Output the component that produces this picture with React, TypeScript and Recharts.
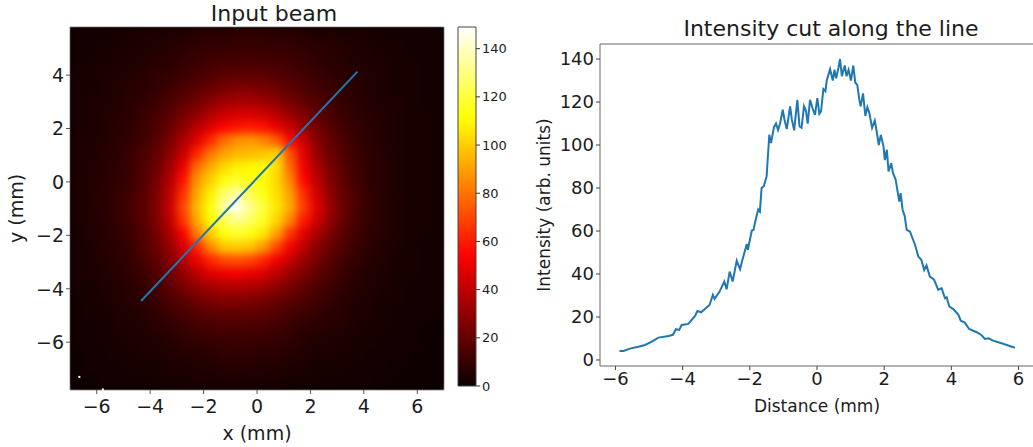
import React from 'react';
import {
  ScatterChart,
  Scatter,
  LineChart,
  Line,
  BarChart,
  Bar,
  XAxis,
  YAxis,
  ReferenceArea,
} from 'recharts';

const FONT = '"DejaVu Sans", sans-serif';
const INK = '#1c1c1c';

// beam image on a 0.5 mm grid
const beamX = [-6.75, -6.25, -5.75, -5.25, -4.75, -4.25, -3.75, -3.25, -2.75, -2.25, -1.75, -1.25, -0.75, -0.25, 0.25, 0.75, 1.25, 1.75, 2.25, 2.75, 3.25, 3.75, 4.25, 4.75, 5.25, 5.75, 6.25, 6.75];
const beamY = [5.55, 5.05, 4.55, 4.05, 3.55, 3.05, 2.55, 2.05, 1.55, 1.05, 0.55, 0.05, -0.45, -0.95, -1.45, -1.95, -2.45, -2.95, -3.45, -3.95, -4.45, -4.95, -5.45, -5.95, -6.45, -6.95, -7.45];
const beamRows = [
  [2, 2, 2, 3, 3, 4, 4, 5, 5, 6, 7, 7, 8, 8, 8, 7, 7, 6, 5, 5, 4, 4, 3, 3, 2, 2, 2, 2],
  [2, 2, 3, 3, 4, 4, 5, 6, 7, 8, 9, 9, 10, 10, 10, 9, 9, 8, 7, 6, 5, 4, 4, 3, 3, 2, 2, 2],
  [2, 3, 3, 4, 4, 5, 6, 7, 9, 10, 12, 13, 13, 13, 13, 12, 11, 10, 8, 7, 6, 5, 4, 4, 3, 3, 2, 2],
  [3, 3, 4, 4, 5, 6, 8, 9, 11, 13, 15, 17, 18, 18, 17, 16, 14, 12, 10, 8, 7, 6, 5, 4, 3, 3, 2, 2],
  [3, 3, 4, 5, 6, 7, 9, 11, 14, 17, 20, 23, 25, 25, 24, 21, 18, 15, 12, 10, 8, 6, 5, 4, 3, 3, 2, 2],
  [3, 4, 4, 5, 7, 8, 11, 14, 18, 22, 27, 31, 34, 34, 32, 28, 23, 19, 15, 12, 9, 7, 5, 4, 4, 3, 2, 2],
  [3, 4, 5, 6, 7, 10, 13, 17, 23, 29, 36, 42, 45, 45, 43, 38, 31, 25, 19, 14, 10, 8, 6, 5, 4, 3, 3, 2],
  [3, 4, 5, 6, 8, 11, 15, 21, 29, 38, 47, 54, 58, 60, 57, 50, 41, 32, 23, 17, 12, 9, 7, 5, 4, 3, 3, 2],
  [4, 4, 5, 7, 9, 12, 17, 25, 36, 48, 62, 78, 86, 88, 84, 74, 56, 42, 28, 20, 14, 10, 7, 5, 4, 3, 3, 2],
  [4, 4, 6, 7, 10, 14, 20, 29, 42, 62, 80, 90, 95, 96, 98, 102, 72, 48, 32, 22, 15, 11, 8, 6, 4, 3, 3, 2],
  [4, 5, 6, 8, 10, 15, 22, 33, 50, 78, 92, 102, 108, 110, 112, 104, 78, 52, 36, 25, 17, 12, 8, 6, 4, 3, 3, 2],
  [4, 5, 6, 8, 11, 16, 24, 37, 58, 88, 100, 112, 118, 114, 112, 102, 84, 56, 40, 27, 18, 12, 8, 6, 4, 3, 3, 2],
  [4, 5, 7, 9, 12, 17, 26, 40, 65, 92, 108, 126, 136, 124, 114, 104, 90, 64, 44, 30, 20, 13, 9, 6, 4, 3, 3, 2],
  [4, 5, 7, 9, 13, 18, 27, 42, 70, 96, 112, 134, 148, 132, 120, 106, 92, 68, 48, 32, 21, 14, 9, 6, 5, 3, 3, 2],
  [4, 5, 6, 9, 12, 17, 26, 40, 66, 92, 110, 124, 132, 126, 116, 102, 84, 60, 44, 30, 20, 13, 9, 6, 4, 3, 3, 2],
  [3, 5, 6, 8, 11, 16, 24, 36, 54, 82, 100, 112, 118, 114, 106, 90, 66, 48, 35, 25, 17, 12, 8, 6, 4, 3, 3, 2],
  [3, 4, 6, 7, 10, 15, 22, 31, 45, 62, 84, 98, 100, 98, 88, 70, 52, 40, 28, 21, 15, 10, 7, 5, 4, 3, 2, 2],
  [3, 4, 5, 7, 9, 13, 19, 27, 37, 50, 62, 70, 72, 70, 62, 52, 42, 32, 24, 17, 12, 9, 6, 5, 3, 3, 2, 2],
  [3, 4, 5, 6, 8, 11, 16, 22, 30, 39, 47, 50, 52, 50, 46, 39, 32, 25, 19, 14, 10, 7, 5, 4, 3, 3, 2, 2],
  [3, 3, 4, 5, 7, 9, 13, 18, 24, 30, 34, 36, 37, 36, 33, 29, 24, 19, 15, 11, 8, 6, 5, 4, 3, 2, 2, 2],
  [2, 3, 4, 5, 6, 8, 10, 14, 18, 22, 25, 27, 27, 26, 24, 21, 18, 15, 12, 9, 7, 5, 4, 3, 3, 2, 2, 2],
  [2, 3, 3, 4, 5, 6, 8, 11, 14, 16, 18, 19, 19, 19, 18, 16, 13, 11, 9, 7, 6, 4, 4, 3, 2, 2, 2, 1],
  [2, 2, 3, 4, 4, 5, 7, 8, 10, 12, 13, 14, 14, 14, 13, 12, 10, 8, 7, 6, 5, 4, 3, 3, 2, 2, 1, 1],
  [2, 2, 3, 3, 4, 4, 5, 6, 8, 9, 10, 10, 11, 10, 10, 9, 8, 6, 5, 4, 4, 3, 3, 2, 2, 2, 1, 1],
  [1, 2, 2, 3, 3, 4, 4, 5, 6, 6, 7, 8, 8, 8, 7, 7, 6, 5, 4, 4, 3, 3, 2, 2, 2, 1, 1, 1],
  [1, 2, 2, 2, 3, 3, 3, 4, 4, 5, 5, 6, 6, 6, 5, 5, 4, 4, 3, 3, 3, 2, 2, 2, 1, 1, 1, 1],
  [1, 1, 2, 2, 2, 2, 3, 3, 3, 4, 4, 4, 4, 4, 4, 4, 3, 3, 3, 2, 2, 2, 2, 1, 1, 1, 1, 1],
];
const hotPixels = [
  { x: -6.65, y: -7.3 },
  { x: -5.77, y: -7.77 },
];
const cutLine = [
  { x: -4.34, y: -4.46 },
  { x: 3.76, y: 4.13 },
];

// intensity cut
const cutDistance = [
  -5.88, -5.76, -5.57, -5.32, -5.12, -4.92, -4.72, -4.42, -4.29, -4.2, -4.1, -4.03, -3.83, -3.63, -3.56, -3.45, -3.2, -3.1, -3.05, -2.9,
  -2.76, -2.69, -2.6, -2.51, -2.39, -2.29, -2.23, -2.09, -2.06, -1.94, -1.89, -1.85, -1.75, -1.7, -1.65, -1.58, -1.5, -1.42, -1.37, -1.28,
  -1.22, -1.16, -1.1, -1.02, -0.97, -0.9, -0.8, -0.75, -0.68, -0.585, -0.52, -0.46, -0.387, -0.33, -0.277, -0.208, -0.13, -0.06, 0.01, 0.07,
  0.12, 0.19, 0.25, 0.29, 0.39, 0.47, 0.52, 0.57, 0.64, 0.685, 0.74, 0.825, 0.88, 0.94, 1.01, 1.08, 1.14, 1.2, 1.26, 1.3,
  1.37, 1.44, 1.5, 1.56, 1.64, 1.72, 1.77, 1.84, 1.9, 1.98, 2.02, 2.08, 2.13, 2.21, 2.26, 2.34, 2.45, 2.49, 2.55, 2.61,
  2.67, 2.77, 2.92, 3.02, 3.11, 3.19, 3.26, 3.36, 3.48, 3.61, 3.71, 3.81, 3.86, 3.94, 4.06, 4.21, 4.28, 4.4, 4.53, 4.65,
  4.77, 4.9, 5.0, 5.11, 5.24, 5.45, 5.65, 5.89,
];
const cutIntensity = [
  4.2, 4.2, 5.3, 6.2, 7, 8.5, 10.4, 11.2, 11.7, 14.3, 14, 16.3, 16.8, 20.5, 22.8, 22.2, 25.6, 30.3, 28.4, 31.8,
  36.5, 32.9, 41.1, 36.5, 46.2, 42.2, 46, 54, 51.2, 60.2, 60.5, 63.6, 70, 69, 80, 81, 85.4, 104.8, 100.9, 108.3,
  110, 107, 110, 116.4, 112, 107.4, 118, 112, 106.8, 121, 108.6, 108, 118, 116, 110, 121, 117, 114, 121.8, 114.5,
  115.6, 126, 125, 130, 135.3, 130, 135, 131, 136, 140, 132, 137, 132, 135, 130, 137, 129, 128, 121, 118,
  124, 113.6, 117.6, 114.8, 108, 111.4, 107, 100, 104.7, 99.4, 93, 97.8, 87.7, 91.6, 87, 84, 73.7, 77.6, 69.8, 67,
  60.5, 59.7, 53.5, 48, 46.5, 41.9, 44, 38.8, 37.5, 32.6, 33.4, 28.7, 29.2, 24.8, 23.7, 21, 18.3, 17.4, 14.4, 13.6,
  12.8, 11.5, 9.8, 10.1, 9, 8, 7, 5.7,
];

const beamTicksX = [-6, -4, -2, 0, 2, 4, 6];
const beamTicksY = [-6, -4, -2, 0, 2, 4];
const colorTicks = [0, 20, 40, 60, 80, 100, 120, 140];
const cutTicksY = [0, 20, 40, 60, 80, 100, 120, 140];
const COLOR_MAX = 149;

const heatCells = beamRows.flatMap((row, r) =>
  row.map((value, c) => ({ x: beamX[c], y: beamY[r], value }))
);
const cutData = cutDistance.map((d, i) => ({ d, v: cutIntensity[i] }));

// matplotlib "hot"
const hot = (v: number) => {
  const t = Math.min(1, v / COLOR_MAX);
  const r = Math.min(1, 0.0416 + t * 2.625);
  const g = Math.max(0, Math.min(1, (t - 0.365) / 0.381));
  const b = Math.max(0, Math.min(1, (t - 0.746) / 0.254));
  return `rgb(${Math.round(r * 255)},${Math.round(g * 255)},${Math.round(b * 255)})`;
};

const fmt = (v: number) => String(v).replace('-', '\u2212');

const HeatCell = (props: any) => (
  <rect x={props.cx - 7} y={props.cy - 7} width={14} height={14} fill={hot(props.payload.value)} />
);
const HotPixel = (props: any) => (
  <rect x={props.cx - 1} y={props.cy - 1} width={2} height={2} fill="#fff" />
);

const box = (left: number, width: number): React.CSSProperties => ({
  position: 'absolute',
  left,
  top: 0,
  width,
  height: 447,
});

export default function App() {
  return (
    <div style={{ position: 'absolute', left: 0, top: 0, width: 1033, height: 447, overflow: 'hidden', background: '#fff', fontFamily: FONT }}>
      <div style={box(0, 460)}>
        <ScatterChart width={460} height={447} margin={{ top: 27, right: 16, bottom: 0, left: 0 }}>
          <defs>
            <filter id="soften" filterUnits="userSpaceOnUse" x={70} y={27} width={374} height={363} colorInterpolationFilters="sRGB">
              <feGaussianBlur stdDeviation={4} />
            </filter>
          </defs>
          <style>{'.heat-cells{filter:url(#soften)}'}</style>
          <XAxis
            type="number"
            dataKey="x"
            domain={[-7, 7]}
            ticks={beamTicksX}
            tickFormatter={fmt}
            height={57}
            tickSize={4}
            tickMargin={6}
            axisLine={false}
            tick={{ fontSize: 19, fill: INK, fontFamily: FONT }}
            tickLine={{ stroke: '#555' }}
            label={{ value: 'x (mm)', position: 'insideBottom', offset: 7, fontSize: 19, fill: INK, fontFamily: FONT }}
          />
          <YAxis
            type="number"
            dataKey="y"
            domain={[-7.79, 5.8]}
            ticks={beamTicksY}
            tickFormatter={fmt}
            width={70}
            tickSize={4}
            tickMargin={2}
            axisLine={false}
            tick={{ fontSize: 19, fill: INK, fontFamily: FONT }}
            tickLine={{ stroke: '#555' }}
            label={{ value: 'y (mm)', angle: -90, position: 'insideLeft', offset: 16, style: { textAnchor: 'middle' }, fontSize: 19, fill: INK, fontFamily: FONT }}
          />
          <ReferenceArea x1={-7} x2={7} y1={-7.79} y2={5.8} fill="#0a0000" fillOpacity={1} stroke="none" />
          <Scatter className="heat-cells" data={heatCells} shape={HeatCell} isAnimationActive={false} />
          <ReferenceArea x1={-7} x2={7} y1={-7.79} y2={5.8} fill="none" stroke="#999" />
          <Scatter data={hotPixels} shape={HotPixel} isAnimationActive={false} />
          <Scatter data={cutLine} line={{ stroke: '#1f77b4', strokeWidth: 2 }} shape={() => <g />} isAnimationActive={false} />
          <text x={274} y={21} textAnchor="middle" fontSize={22} fill={INK} fontFamily={FONT}>Input beam</text>
        </ScatterChart>
      </div>

      <div style={box(440, 80)}>
        <BarChart
          width={80}
          height={447}
          data={[{ name: 'scale', top: COLOR_MAX }]}
          barCategoryGap={0}
          margin={{ top: 27, right: 0, bottom: 61, left: 18 }}
        >
          <defs>
            <linearGradient id="hotScale" x1="0" y1="1" x2="0" y2="0">
              <stop offset="0" stopColor="#0b0000" />
              <stop offset="0.365" stopColor="#ff0000" />
              <stop offset="0.746" stopColor="#ffff00" />
              <stop offset="1" stopColor="#ffffff" />
            </linearGradient>
          </defs>
          <XAxis dataKey="name" hide />
          <YAxis
            orientation="right"
            domain={[0, COLOR_MAX]}
            ticks={colorTicks}
            width={44}
            tickSize={4}
            tickMargin={2}
            axisLine={false}
            tick={{ fontSize: 13, fill: INK, fontFamily: FONT }}
            tickLine={{ stroke: '#333' }}
          />
          <Bar dataKey="top" fill="url(#hotScale)" stroke="#444" isAnimationActive={false} />
        </BarChart>
      </div>

      <div style={box(520, 514)}>
        <LineChart width={514} height={447} data={cutData} margin={{ top: 44, right: 0, bottom: 0, left: 0 }}>
          <XAxis
            type="number"
            dataKey="d"
            domain={[-6.46, 6.46]}
            ticks={beamTicksX}
            tickFormatter={fmt}
            height={81}
            tickSize={4}
            tickMargin={2}
            axisLine={false}
            tick={{ fontSize: 18, fill: INK, fontFamily: FONT }}
            tickLine={{ stroke: '#444' }}
            label={{ value: 'Distance (mm)', position: 'insideBottom', offset: 35, fontSize: 17, fill: INK, fontFamily: FONT }}
          />
          <YAxis
            type="number"
            domain={[-2.8, 147]}
            ticks={cutTicksY}
            width={80}
            tickSize={4}
            tickMargin={2}
            axisLine={false}
            tick={{ fontSize: 18, fill: INK, fontFamily: FONT }}
            tickLine={{ stroke: '#444' }}
            label={{ value: 'Intensity (arb. units)', angle: -90, position: 'insideLeft', offset: 24, style: { textAnchor: 'middle' }, fontSize: 17, fill: INK, fontFamily: FONT }}
          />
          <ReferenceArea x1={-6.46} x2={6.46} y1={-2.8} y2={147} fill="none" stroke="#666" />
          <Line dataKey="v" type="linear" stroke="#1f77b4" strokeWidth={2} dot={false} isAnimationActive={false} />
          <text x={311} y={36} textAnchor="middle" fontSize={22} fill={INK} fontFamily={FONT}>Intensity cut along the line</text>
        </LineChart>
      </div>
    </div>
  );
}
